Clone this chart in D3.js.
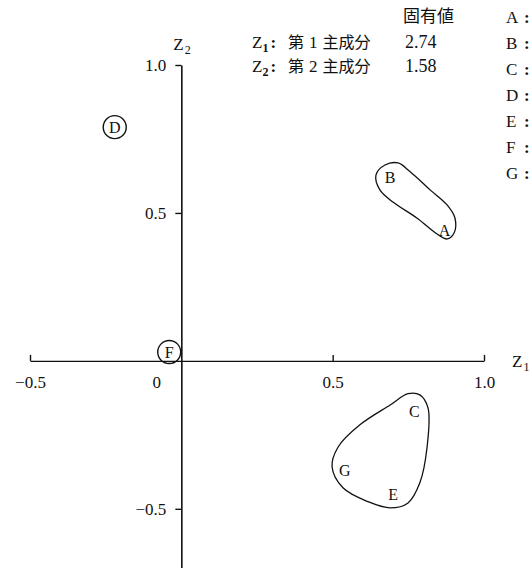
<!DOCTYPE html>
<html>
<head>
<meta charset="utf-8">
<script src="https://cdn.jsdelivr.net/npm/d3@7"></script>
<style>
  html, body { margin: 0; padding: 0; background: #fff; }
  svg text { font-family: "Liberation Serif", "DejaVu Serif", serif; fill: #111; }
  .cjk { font-family: "Noto Sans CJK JP", sans-serif; }
</style>
</head>
<body>
<svg id="chart" width="531" height="568"></svg>
<script>
// Principal component loadings (Z1, Z2) for variables A–G
const names = ["A", "B", "C", "D", "E", "F", "G"];
const z1 = [0.87, 0.69, 0.77, -0.22, 0.70, -0.04, 0.54];
const z2 = [0.44, 0.62, -0.17, 0.79, -0.45, 0.03, -0.37];
// variables shown circled (no group outline)
const circled = ["D", "F"];

// Eigenvalues
const compNo = ["1", "2"];
const eigenvalues = ["2.74", "1.58"];

// Axis ticks
const xTicks = [-0.5, 0, 0.5, 1.0];
const yTicks = [1.0, 0.5, -0.5];

// Group outlines (closed curves in loading units)
const groupAB = [
  [0.673, 0.662], [0.643, 0.628], [0.656, 0.578], [0.699, 0.537],
  [0.778, 0.483], [0.845, 0.429], [0.878, 0.412], [0.901, 0.432],
  [0.904, 0.483], [0.878, 0.527], [0.822, 0.578], [0.756, 0.639],
  [0.716, 0.669]
];
const groupCGE = [
  [0.788, -0.115], [0.815, -0.159], [0.812, -0.291], [0.788, -0.412],
  [0.749, -0.480], [0.690, -0.497], [0.617, -0.476], [0.534, -0.429],
  [0.498, -0.358], [0.518, -0.291], [0.590, -0.216], [0.690, -0.149],
  [0.749, -0.111]
];

const svg = d3.select("#chart");
const x = d3.scaleLinear().domain([-0.5, 1.0]).range([30, 484]);
const y = d3.scaleLinear().domain([1.0, -0.7]).range([65, 568]);

const fmt = v => (v < 0 ? "\u2212" : "") + (v === 0 ? "0" : Math.abs(v).toFixed(1));

// X axis: ticks point up, labels below
const gx = svg.append("g")
  .attr("transform", `translate(0,${y(0)})`)
  .call(d3.axisBottom(x).tickValues(xTicks).tickSizeInner(-6).tickSizeOuter(0)
        .tickPadding(15).tickFormat(fmt));
gx.select(".domain").attr("stroke", "#111").attr("stroke-width", 1.4);
gx.selectAll(".tick line").attr("stroke", "#111").attr("stroke-width", 1.4)
  .attr("display", d => d === 0 ? "none" : null);
gx.selectAll(".tick text").attr("font-size", 17)
  .attr("font-family", "Liberation Serif, serif").attr("fill", "#111")
  .attr("dx", d => d === 0 ? -25 : 0);

// Y axis: ticks point left
const gy = svg.append("g")
  .attr("transform", `translate(${x(0)},0)`)
  .call(d3.axisLeft(y).tickValues(yTicks).tickSizeInner(6).tickSizeOuter(0)
        .tickPadding(9).tickFormat(fmt));
gy.select(".domain").attr("stroke", "#111").attr("stroke-width", 1.6);
gy.selectAll(".tick line").attr("stroke", "#111").attr("stroke-width", 1.4);
gy.selectAll(".tick text").attr("font-size", 17)
  .attr("font-family", "Liberation Serif, serif").attr("fill", "#111");

// Axis titles
function zLabel(sel, n) {
  sel.append("tspan").text("Z");
  sel.append("tspan").attr("font-size", 12).attr("dy", 4).attr("dx", 1).text(n);
}
svg.append("text").attr("x", x(1.0) + 28).attr("y", y(0) + 6)
  .attr("font-size", 17).call(zLabel, "1");
svg.append("text").attr("x", x(0) - 8).attr("y", 50)
  .attr("font-size", 17).call(zLabel, "2");

// Group outlines
const outline = d3.line().x(d => x(d[0])).y(d => y(d[1])).curve(d3.curveCatmullRomClosed.alpha(0.5));
[groupAB, groupCGE].forEach(g => {
  svg.append("path").attr("d", outline(g))
    .attr("fill", "none").attr("stroke", "#111").attr("stroke-width", 1.3);
});

// Variable markers
const pts = names.map((n, i) => ({ n, x: z1[i], y: z2[i] }));
svg.selectAll("circle.mark").data(pts.filter(d => circled.includes(d.n)))
  .join("circle").attr("class", "mark")
  .attr("cx", d => x(d.x)).attr("cy", d => y(d.y)).attr("r", 11.5)
  .attr("fill", "none").attr("stroke", "#111").attr("stroke-width", 1.4);
svg.selectAll("text.mark").data(pts)
  .join("text").attr("class", "mark")
  .attr("x", d => x(d.x)).attr("y", d => y(d.y))
  .attr("text-anchor", "middle").attr("dominant-baseline", "central")
  .attr("font-size", 16).text(d => d.n);

// Eigenvalue table
svg.append("text").attr("class", "cjk").attr("x", 403).attr("y", 22)
  .attr("font-size", 17).text("固有値");
compNo.forEach((k, i) => {
  const ty = 48 + i * 24;
  const t = svg.append("text").attr("x", 252).attr("y", ty).attr("font-size", 17);
  t.append("tspan").text("Z");
  t.append("tspan").attr("font-size", 12).attr("font-weight", "bold").attr("dy", 4).text(k);
  t.append("tspan").attr("dy", -4).attr("font-weight", "bold").attr("dx", 2).text(":");
  const c = svg.append("text").attr("x", 288).attr("y", ty).attr("font-size", 16);
  c.append("tspan").attr("class", "cjk").text("第");
  c.append("tspan").attr("dx", 5).attr("font-size", 17).text(k);
  c.append("tspan").attr("class", "cjk").attr("dx", 5).text("主成分");
  svg.append("text").attr("x", 405).attr("y", ty).attr("font-size", 18).text(eigenvalues[i]);
});

// Variable legend (entries continue past the right edge)
names.forEach((n, i) => {
  const ly = 23 + i * 26;
  svg.append("text").attr("x", 506).attr("y", ly).attr("font-size", 17).text(n);
  svg.append("text").attr("x", 524).attr("y", ly).attr("font-size", 17)
    .attr("font-weight", "bold").text(":");
});
</script>
</body>
</html>
